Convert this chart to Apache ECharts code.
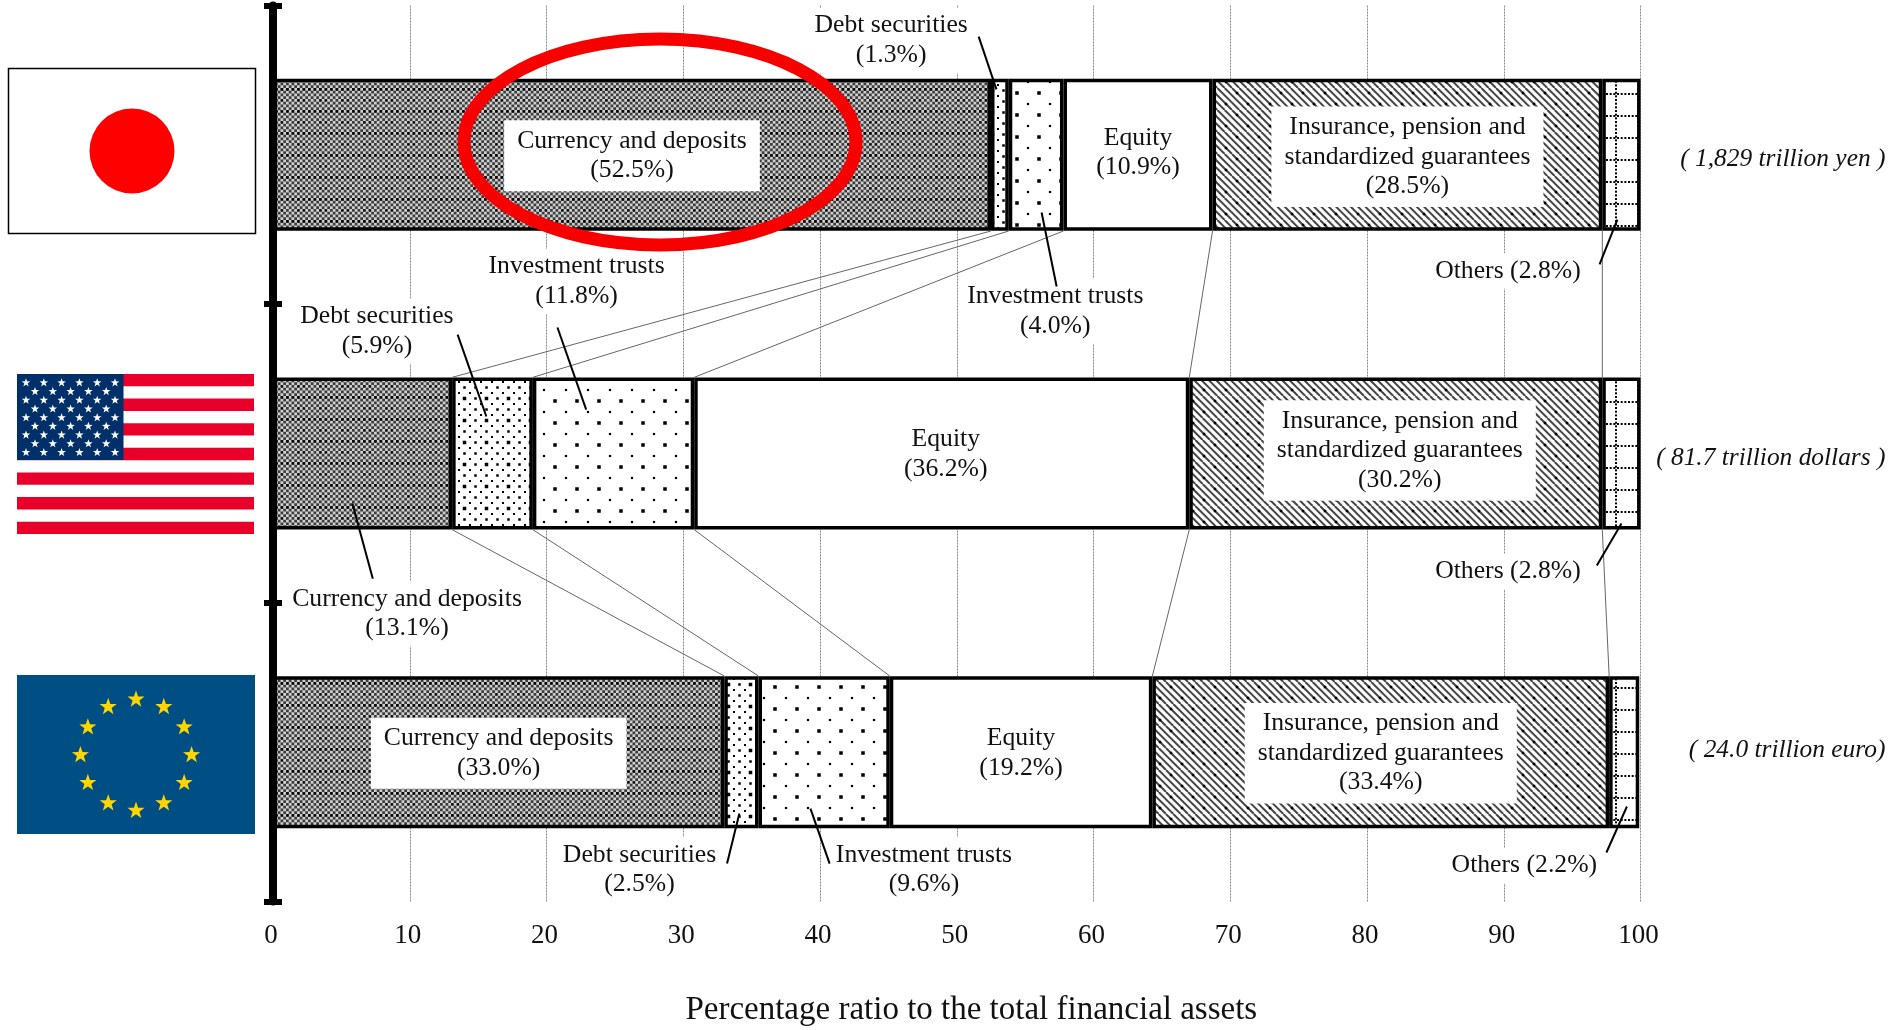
<!DOCTYPE html>
<html>
<head>
<meta charset="utf-8">
<title>Financial assets</title>
<style>
  html, body { margin: 0; padding: 0; background: #fff; }
  #main { width: 1895px; height: 1030px; }
</style>
<script src="https://cdn.jsdelivr.net/npm/echarts@6/dist/echarts.min.js"></script>
</head>
<body>
<div id="main"></div>
<script>
// data
const regions = ['Japan', 'United States', 'Euro area']
const currency = [52.5, 13.1, 33.0]
const debt = [1.3, 5.9, 2.5]
const trusts = [4.0, 11.8, 9.6]
const equity = [10.9, 36.2, 19.2]
const insurance = [28.5, 30.2, 33.4]
const others = [2.8, 2.8, 2.2]
const totals = ['( 1,829 trillion yen )', '( 81.7 trillion dollars )', '( 24.0 trillion euro)']
const assetNames = ['Currency and deposits', 'Debt securities', 'Investment trusts', 'Equity',
  'Insurance, pension and\nstandardized guarantees', 'Others']
const assetValues = [currency, debt, trusts, equity, insurance, others]
const xTicks = [0, 10, 20, 30, 40, 50, 60, 70, 80, 90, 100]

// which segments carry their label inside the bar: [asset, region, x nudge, y nudge]
const insideLabels = [[0, 0, 0, 1], [0, 2, 0, 1], [3, 0, 0, -2], [3, 1, 4, 1], [3, 2, 0, 1],
  [4, 0, 0, 2], [4, 1, 4, -3], [4, 2, 0, 1]]
// outside labels: [asset, region, x in %, y in rows]
const outsideLabels = [
  [1, 0, 45.2, 0.117], [2, 0, 57.2, 1.024], [5, 0, 90.3, 0.889],
  [0, 1, 9.8, 2.036], [1, 1, 7.6, 1.091], [2, 1, 22.2, 0.924], [5, 1, 90.3, 1.895],
  [1, 2, 26.8, 2.893], [2, 2, 47.6, 2.893], [5, 2, 91.5, 2.88]
]
// leader lines: x1, y1, x2, y2 in %, rows
const leaders = [
  [51.6, 0.104, 52.9, 0.281], [56.2, 0.693, 57.3, 0.941], [98.3, 0.717, 97.0, 0.867],
  [13.5, 1.102, 15.6, 1.376], [20.8, 1.078, 22.9, 1.353], [5.8, 1.667, 7.3, 1.919], [98.6, 1.734, 96.8, 1.875],
  [34.1, 2.705, 33.2, 2.873], [39.3, 2.689, 40.7, 2.873], [99.0, 2.682, 97.5, 2.836]
]
const totalRows = [0.515, 1.515, 2.495]

const serif = '"Liberation Serif", serif'
const ink = '#111'

// fill patterns
function tile(size, draw) {
  let c = document.createElement('canvas')
  c.width = size
  c.height = size
  let g = c.getContext('2d')
  g.fillStyle = '#fff'
  g.fillRect(0, 0, size, size)
  draw(g)
  return { image: c, repeat: 'repeat' }
}
function dot(g, x, y, s) {
  g.fillStyle = '#000'
  g.fillRect(x - s / 2, y - s / 2, s, s)
}
const patterns = [
  tile(22, g => {
    g.fillStyle = '#d0d0d0'
    g.fillRect(0, 0, 22, 22)
    g.fillStyle = '#3c3c3c'
    for (let i = 0; i < 8; i++) {
      for (let j = 0; j < 8; j++) {
        if ((i + j) % 2 === 0) g.fillRect(i * 2.75, j * 2.75, 2.75, 2.75)
      }
    }
    for (let i = 0; i < 4; i++) {
      dot(g, 1.4 + i * 5.5, 1.4, 2.5)
      dot(g, 12.4 + i * 5.5, 12.4, 2)
    }
  }),
  tile(22, g => {
    for (let i = 0; i < 2; i++) {
      for (let j = 0; j < 2; j++) {
        dot(g, 2.5 + i * 11, 2.5 + j * 11, j === 0 && i === 0 ? 3.5 : 2.5)
        dot(g, 8 + i * 11, 8 + j * 11, 2)
      }
    }
  }),
  tile(22, g => {
    dot(g, 5, 5, 3.5)
    dot(g, 16, 16, 2.2)
  }),
  '#fff',
  tile(22, g => {
    g.strokeStyle = '#444'
    g.lineWidth = 2
    for (let i = -22; i <= 44; i += 7.333) {
      g.beginPath()
      g.moveTo(i, 0)
      g.lineTo(i + 22, 22)
      g.stroke()
    }
    dot(g, 5, 5, 2.5)
    dot(g, 16, 16, 2.5)
  }),
  tile(22, g => {
    for (let i = 0; i < 22; i += 3.67) {
      dot(g, i + 1, 6, 2)
      dot(g, 10, i + 1, 2)
    }
  })
]

// flags are drawn as plain shapes
function star(cx, cy, r, fill) {
  let points = []
  for (let i = 0; i < 10; i++) {
    let a = -Math.PI / 2 + i * Math.PI / 5
    let rr = i % 2 ? r * 0.4 : r
    points.push([cx + rr * Math.cos(a), cy + rr * Math.sin(a)])
  }
  return { type: 'polygon', shape: { points }, style: { fill } }
}
function flags() {
  let els = []
  // Japan
  els.push({ type: 'rect', shape: { x: 8.5, y: 68.5, width: 247, height: 165 }, style: { fill: '#fff', stroke: '#000', lineWidth: 1.5 } })
  els.push({ type: 'circle', shape: { cx: 132, cy: 151, r: 42.5 }, style: { fill: '#ff0000' } })
  // United States
  let sh = 160 / 13
  for (let i = 0; i < 13; i += 2) {
    els.push({ type: 'rect', shape: { x: 17, y: 374 + i * sh, width: 237, height: sh }, style: { fill: '#e8002b' } })
  }
  els.push({ type: 'rect', shape: { x: 17, y: 374, width: 106.5, height: 86 }, style: { fill: '#00306a' } })
  for (let r = 0; r < 9; r++) {
    let n = r % 2 ? 5 : 6
    let x0 = r % 2 ? 35 : 26
    for (let c = 0; c < n; c++) {
      els.push(star(x0 + c * 17.8, 382.8 + r * 8.7, 4.5, '#fff'))
    }
  }
  // EU
  els.push({ type: 'rect', shape: { x: 17, y: 675, width: 238, height: 159 }, style: { fill: '#004f84' } })
  for (let i = 0; i < 12; i++) {
    let a = i * Math.PI / 6
    els.push(star(136 + 55.6 * Math.sin(a), 755 - 55.6 * Math.cos(a), 9, '#ffd500'))
  }
  return els
}

// bars
const barSeries = assetNames.map((name, a) => ({
  name: name,
  type: 'bar',
  stack: 'total',
  barWidth: 152,
  z: 2,
  itemStyle: { color: patterns[a], borderColor: '#000', borderWidth: 3.5 },
  label: {
    show: false,
    position: 'inside',
    fontFamily: serif,
    fontSize: 25.7,
    lineHeight: 29.5,
    color: ink,
    backgroundColor: '#fff',
    padding: [7, 13, 5, 13]
  },
  data: assetValues[a].map((v, r) => {
    let hit = insideLabels.find(l => l[0] === a && l[1] === r)
    if (!hit) return v
    return {
      value: v,
      label: { show: true, offset: [hit[2], hit[3]], formatter: name + '\n(' + v.toFixed(1) + '%)' }
    }
  })
}))

// thin lines joining segment edges of neighbouring bars
const joinData = []
for (let r = 0; r < 2; r++) {
  let sumA = 0, sumB = 0
  for (let a = 0; a < 5; a++) {
    sumA += assetValues[a][r]
    sumB += assetValues[a][r + 1]
    joinData.push([sumA, sumB, r])
  }
}

const chart = echarts.init(document.getElementById('main'))
chart.setOption({
  animation: false,
  backgroundColor: '#fff',
  textStyle: { fontFamily: serif },
  grid: { left: 273, top: 5.5, width: 1367.6, height: 896, outerBoundsMode: 'none' },
  xAxis: {
    type: 'value',
    min: xTicks[0],
    max: xTicks[xTicks.length - 1],
    interval: 10,
    axisLine: { show: false },
    axisTick: { show: false },
    axisLabel: { fontFamily: serif, fontSize: 27, color: ink, margin: 21, padding: [0, 4, 0, 0] },
    splitLine: { show: true, lineStyle: { color: '#888', width: 1, type: [2, 1] } },
    name: 'Percentage ratio to the total financial assets',
    nameLocation: 'middle',
    nameGap: 92,
    nameTextStyle: { fontFamily: serif, fontSize: 33, color: ink, padding: [0, 0, 0, 29] }
  },
  yAxis: [
    {
      type: 'category',
      inverse: true,
      data: regions,
      z: 10,
      axisLine: { show: true, lineStyle: { color: '#000', width: 8 } },
      axisTick: { show: true, length: 9, lineStyle: { color: '#000', width: 6 } },
      axisLabel: { show: false },
      splitLine: { show: false }
    },
    {
      // helper axis in row units, used by the notes and the inner half of the ticks
      type: 'value',
      position: 'left',
      inverse: true,
      min: 0,
      max: 3,
      interval: 1,
      z: 10,
      axisLine: { show: false },
      axisTick: { show: true, inside: true, length: 9, lineStyle: { color: '#000', width: 6 } },
      axisLabel: { show: false },
      splitLine: { show: false }
    }
  ],
  graphic: { elements: flags() },
  series: barSeries.concat([
    {
      type: 'custom',
      yAxisIndex: 1,
      z: 3,
      silent: true,
      clip: false,
      encode: { x: [0, 1], y: 2 },
      data: joinData,
      renderItem(params, api) {
        let r = api.value(2)
        let p1 = api.coord([api.value(0), r + 0.755])
        let p2 = api.coord([api.value(1), r + 1.245])
        return {
          type: 'line',
          shape: { x1: p1[0], y1: p1[1], x2: p2[0], y2: p2[1] },
          style: { stroke: '#666', lineWidth: 1 }
        }
      }
    },
    {
      type: 'custom',
      yAxisIndex: 1,
      z: 5,
      silent: true,
      clip: false,
      encode: { x: 0, y: 1 },
      data: outsideLabels.map(l => [l[2], l[3]]),
      renderItem(params, api) {
        let l = outsideLabels[params.dataIndex]
        let p = api.coord([api.value(0), api.value(1)])
        let v = assetValues[l[0]][l[1]].toFixed(1)
        let sep = l[0] === 5 ? ' ' : '\n'
        return {
          type: 'text',
          style: {
            text: assetNames[l[0]] + sep + '(' + v + '%)',
            x: p[0],
            y: p[1],
            align: 'center',
            verticalAlign: 'middle',
            fontFamily: serif,
            fontSize: 25.7,
            lineHeight: 29.5,
            fill: ink,
            backgroundColor: '#fff',
            padding: [3, 5]
          }
        }
      }
    },
    {
      type: 'custom',
      yAxisIndex: 1,
      z: 6,
      silent: true,
      clip: false,
      encode: { x: [0, 2], y: [1, 3] },
      data: leaders,
      renderItem(params, api) {
        let p1 = api.coord([api.value(0), api.value(1)])
        let p2 = api.coord([api.value(2), api.value(3)])
        return {
          type: 'line',
          shape: { x1: p1[0], y1: p1[1], x2: p2[0], y2: p2[1] },
          style: { stroke: '#000', lineWidth: 2 }
        }
      }
    },
    {
      // totals at the right of each bar
      type: 'custom',
      yAxisIndex: 1,
      z: 5,
      silent: true,
      clip: false,
      encode: { x: 0, y: 1 },
      data: totals.map((t, i) => [117.9, totalRows[i]]),
      renderItem(params, api) {
        let p = api.coord([api.value(0), api.value(1)])
        return {
          type: 'text',
          style: {
            text: totals[params.dataIndex],
            x: p[0],
            y: p[1],
            align: 'right',
            verticalAlign: 'middle',
            font: 'italic 25.4px ' + serif,
            fill: ink
          }
        }
      }
    },
    {
      // red ring around the Japanese currency and deposits
      type: 'custom',
      yAxisIndex: 1,
      z: 7,
      silent: true,
      clip: false,
      encode: { x: 0, y: 1 },
      data: [[28.3, 0.457]],
      renderItem(params, api) {
        let p = api.coord([api.value(0), api.value(1)])
        return {
          type: 'ellipse',
          shape: { cx: p[0], cy: p[1], rx: 196, ry: 103 },
          style: { fill: 'none', stroke: '#f60000', lineWidth: 13 }
        }
      }
    }
  ])
})
</script>
</body>
</html>
